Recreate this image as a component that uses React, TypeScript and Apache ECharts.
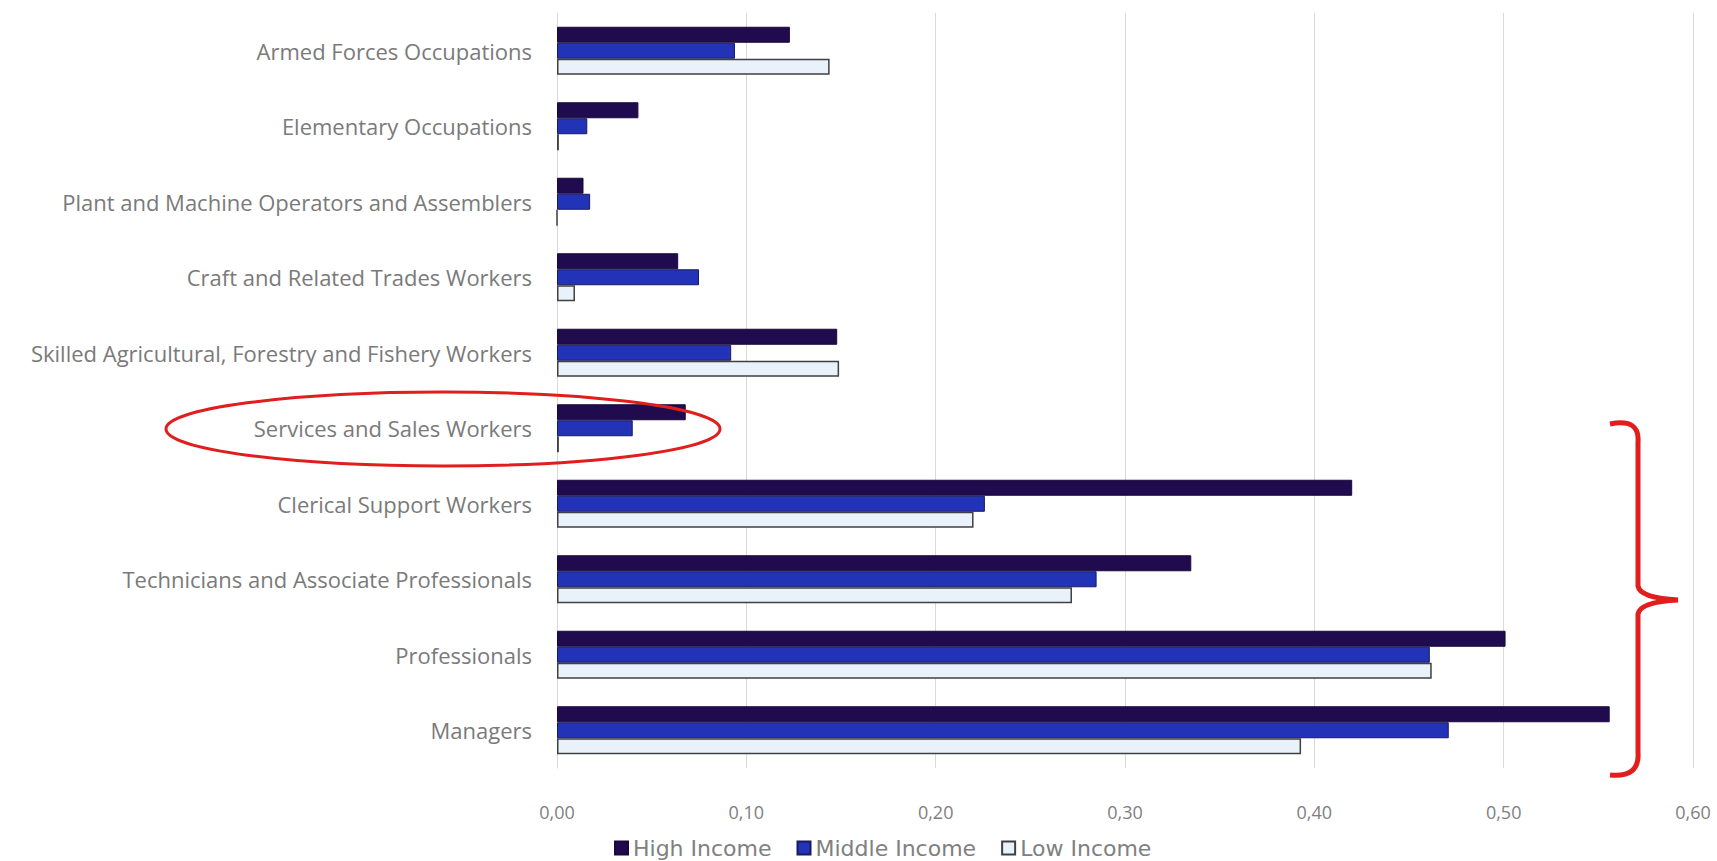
import React, { useEffect, useRef } from "react";
import * as echarts from "echarts";

const categories = [
  "Armed Forces Occupations",
  "Elementary Occupations",
  "Plant and Machine Operators and Assemblers",
  "Craft and Related Trades Workers",
  "Skilled Agricultural, Forestry and Fishery Workers",
  "Services and Sales Workers",
  "Clerical Support Workers",
  "Technicians and Associate Professionals",
  "Professionals",
  "Managers",
];
const highIncome = [0.123, 0.043, 0.014, 0.064, 0.148, 0.068, 0.42, 0.335, 0.501, 0.556];
const middleIncome = [0.094, 0.016, 0.0175, 0.075, 0.092, 0.04, 0.226, 0.285, 0.461, 0.471];
const lowIncome = [0.144, 0.001, 0, 0.0095, 0.149, 0.001, 0.22, 0.272, 0.462, 0.393];
const seriesNames = ["High Income", "Middle Income", "Low Income"];

const bracketPath =
  "M1610,424 Q1640,418 1638,442 L1638,586 Q1640,598 1678,600 Q1640,602 1638,614 L1638,752 Q1640,778 1610,775";

export default function App() {
  const ref = useRef<HTMLDivElement>(null);
  useEffect(() => {
    if (!ref.current) return;
    try {
      echarts.graphic.registerShape("curlyBracket", echarts.graphic.extendPath(bracketPath, {}) as any);
    } catch (e) {}
    const chart = echarts.init(ref.current, null, { renderer: "svg" });
    const font = "Open Sans";
    chart.setOption({
      animation: false,
      backgroundColor: "#ffffff",
      grid: { left: 557, right: 24, top: 13, bottom: 93 },
      legend: {
        left: 609,
        top: 832,
        itemWidth: 13,
        itemHeight: 13,
        itemGap: 25,
        icon: "rect",
        textStyle: { color: "#808080", fontSize: 22, fontFamily: "DejaVu Sans" },
        data: seriesNames,
      },
      xAxis: {
        type: "value",
        min: 0,
        max: 0.6,
        interval: 0.1,
        axisLine: { show: false },
        axisTick: { show: false },
        splitLine: { lineStyle: { color: "#d9d9d9", width: 1 } },
        axisLabel: {
          color: "#7f7f7f",
          fontSize: 18,
          fontFamily: font,
          margin: 35,
          formatter: (v: number) => v.toFixed(2).replace(".", ","),
        },
      },
      yAxis: {
        type: "category",
        inverse: true,
        data: categories,
        axisLine: { show: true, lineStyle: { color: "#d9d9d9" } },
        axisTick: { show: false },
        axisLabel: { color: "#7a7a7a", fontSize: 22, fontFamily: font, margin: 25 },
      },
      series: [
        {
          name: seriesNames[0],
          type: "bar",
          data: highIncome,
          barWidth: 16,
          barGap: "0%",
          itemStyle: { color: "#200b4e", borderColor: "#1a0a3a", borderWidth: 1 },
        },
        {
          name: seriesNames[1],
          type: "bar",
          data: middleIncome,
          barWidth: 16,
          barGap: "0%",
          itemStyle: { color: "#2233b8", borderColor: "#1a1a60", borderWidth: 1 },
        },
        {
          name: seriesNames[2],
          type: "bar",
          data: lowIncome,
          barWidth: 16,
          barGap: "0%",
          itemStyle: { color: "#e9f1fb", borderColor: "#404040", borderWidth: 1.5 },
        },
      ],
      graphic: [
        {
          type: "ellipse",
          shape: { cx: 443, cy: 429, rx: 277, ry: 37 },
          style: { fill: "none", stroke: "#e01e1e", lineWidth: 3 },
          z: 100,
        },
        {
          type: "curlyBracket",
          x: 0,
          y: 0,
          style: { fill: "none", stroke: "#e01e1e", lineWidth: 5 },
          z: 100,
        },
      ],
    });
    return () => chart.dispose();
  }, []);
  return (
    <div
      ref={ref}
      style={{ position: "absolute", left: 0, top: 0, width: 1717, height: 861 }}
    />
  );
}
